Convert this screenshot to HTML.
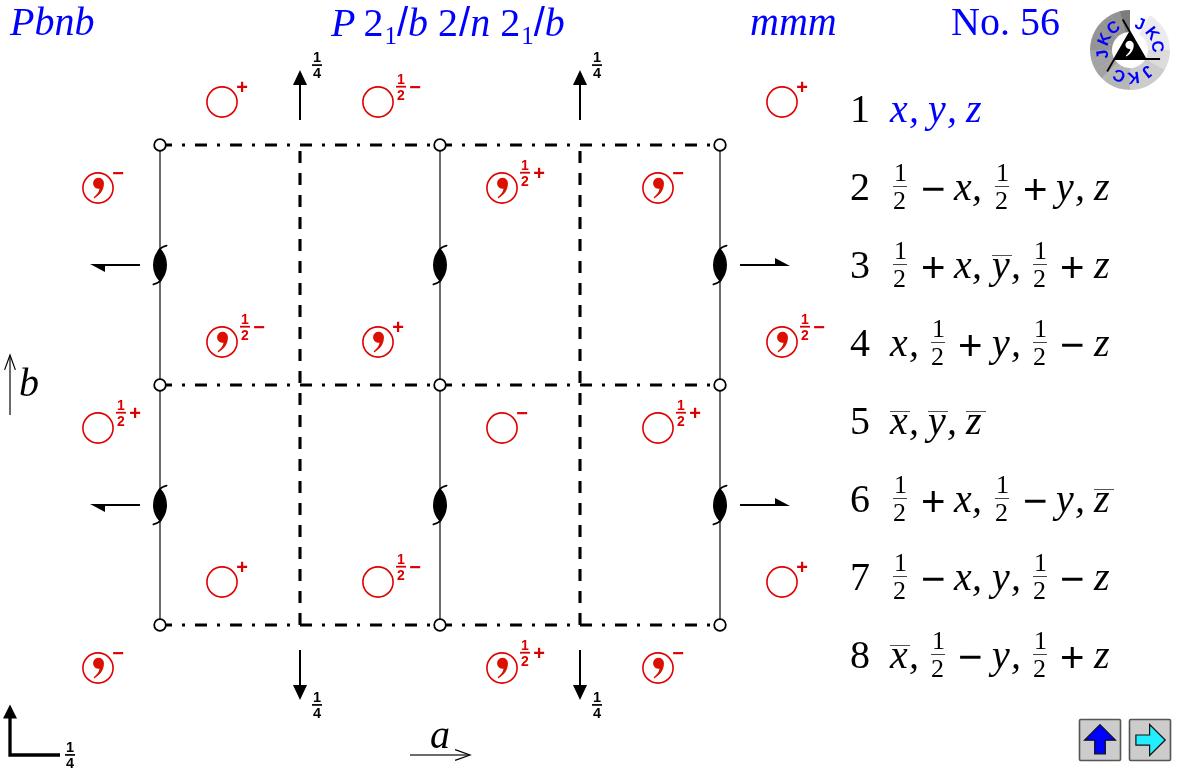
<!DOCTYPE html>
<html lang="en">
<head>
<meta charset="utf-8">
<title>Pbnb No. 56</title>
<style>
html,body{margin:0;padding:0;background:#fff;}
body{width:1180px;height:770px;position:relative;overflow:hidden;font-family:"Liberation Serif",serif;}
#wrap{position:absolute;left:0;top:0;width:1180px;height:770px;will-change:transform;}
#dia{position:absolute;left:0;top:0;}
.hd{position:absolute;font-size:40px;line-height:40px;color:#0000ff;white-space:nowrap;}
.hd i{font-style:italic;}
.hd sub{font-size:25px;line-height:0;vertical-align:baseline;position:relative;top:8px;margin-left:1px;}
.hd .k{margin-left:-2px;}
.sl{font-family:"Liberation Sans",sans-serif;font-style:normal;}
.row{position:absolute;left:0;top:0;width:1180px;height:0;font-size:40px;line-height:40px;color:#000;}
.row span{position:absolute;white-space:pre;}
.row .i{font-style:italic;}
.row .b{color:#0000ff;}
.row .op{font-family:"Liberation Sans",sans-serif;font-size:42px;}
.row .fn,.row .fd{font-size:26px;}
.row .fl{height:1px;width:14px;background:#444;}
.row .ob{height:1px;width:19.5px;background:#555;}
.sb{font-family:"Liberation Sans",sans-serif;font-weight:bold;}
.ax{position:absolute;font-size:40px;line-height:40px;font-style:italic;color:#000;}
</style>
</head>
<body>
<div id="wrap">
<svg id="dia" width="1180" height="770" viewBox="0 0 1180 770">
<defs>
<path id="comma" d="M5.95,-4.7 C5.95,2.2 1.9,7.2 -3.7,10.4 L-4.35,9.2 C-1.2,6.6 1.2,3.6 1.5,0.65 A5.45,5.45 0 1,1 5.95,-4.7 Z"/>
<g id="screw"><path d="M0,-17 A24.14,24.14 0 0,0 0,17 A24.14,24.14 0 0,0 0,-17 Z" fill="#000"/><path d="M-1.6,-13.5 Q-0.7,-17.4 6.6,-19.4" fill="none" stroke="#000" stroke-width="1.8" stroke-linecap="round"/><path d="M1.6,13.5 Q0.7,17.4 -6.6,19.4" fill="none" stroke="#000" stroke-width="1.8" stroke-linecap="round"/></g>
</defs>
<line x1="160" y1="145" x2="160" y2="625" stroke="#6b6b6b" stroke-width="2"/>
<line x1="440" y1="145" x2="440" y2="625" stroke="#6b6b6b" stroke-width="2"/>
<line x1="720" y1="145" x2="720" y2="625" stroke="#6b6b6b" stroke-width="2"/>
<line x1="160" y1="145" x2="720" y2="145" stroke="#000" stroke-width="3.1" stroke-dasharray="12 10 3 10"/>
<line x1="160" y1="385" x2="720" y2="385" stroke="#000" stroke-width="3.1" stroke-dasharray="12 10 3 10"/>
<line x1="160" y1="625" x2="720" y2="625" stroke="#000" stroke-width="3.1" stroke-dasharray="12 10 3 10"/>
<line x1="300" y1="625" x2="300" y2="145" stroke="#000" stroke-width="3.1" stroke-dasharray="12 10"/>
<line x1="580" y1="625" x2="580" y2="145" stroke="#000" stroke-width="3.1" stroke-dasharray="12 10"/>
<circle cx="160" cy="145" r="5.8" fill="#fff" stroke="#000" stroke-width="1.8"/>
<circle cx="160" cy="385" r="5.8" fill="#fff" stroke="#000" stroke-width="1.8"/>
<circle cx="160" cy="625" r="5.8" fill="#fff" stroke="#000" stroke-width="1.8"/>
<circle cx="440" cy="145" r="5.8" fill="#fff" stroke="#000" stroke-width="1.8"/>
<circle cx="440" cy="385" r="5.8" fill="#fff" stroke="#000" stroke-width="1.8"/>
<circle cx="440" cy="625" r="5.8" fill="#fff" stroke="#000" stroke-width="1.8"/>
<circle cx="720" cy="145" r="5.8" fill="#fff" stroke="#000" stroke-width="1.8"/>
<circle cx="720" cy="385" r="5.8" fill="#fff" stroke="#000" stroke-width="1.8"/>
<circle cx="720" cy="625" r="5.8" fill="#fff" stroke="#000" stroke-width="1.8"/>
<use href="#screw" x="160" y="265"/>
<use href="#screw" x="160" y="505"/>
<use href="#screw" x="440" y="265"/>
<use href="#screw" x="440" y="505"/>
<use href="#screw" x="720" y="265"/>
<use href="#screw" x="720" y="505"/>
<path d="M90,264 H140 V266 H105 V272 Z" fill="#000"/>
<path d="M790,266 H740 V264 H775 V258 Z" fill="#000"/>
<path d="M90,504 H140 V506 H105 V512 Z" fill="#000"/>
<path d="M790,506 H740 V504 H775 V498 Z" fill="#000"/>
<line x1="300" y1="120" x2="300" y2="84" stroke="#000" stroke-width="2"/><path d="M300,70 L293,85 L307,85 Z" fill="#000"/>
<line x1="312.0" y1="65.1" x2="322.0" y2="65.1" stroke="#000" stroke-width="1.7"/><text x="317" y="61.99999999999999" text-anchor="middle" class="sb" font-size="14.5" fill="#000">1</text><text x="317" y="77.89999999999999" text-anchor="middle" class="sb" font-size="14.5" fill="#000">4</text>
<line x1="300" y1="650" x2="300" y2="686" stroke="#000" stroke-width="2"/><path d="M300,700 L293,685 L307,685 Z" fill="#000"/>
<line x1="312.0" y1="704.9" x2="322.0" y2="704.9" stroke="#000" stroke-width="1.7"/><text x="317" y="701.8" text-anchor="middle" class="sb" font-size="14.5" fill="#000">1</text><text x="317" y="717.6999999999999" text-anchor="middle" class="sb" font-size="14.5" fill="#000">4</text>
<line x1="580" y1="120" x2="580" y2="84" stroke="#000" stroke-width="2"/><path d="M580,70 L573,85 L587,85 Z" fill="#000"/>
<line x1="592.0" y1="65.1" x2="602.0" y2="65.1" stroke="#000" stroke-width="1.7"/><text x="597" y="61.99999999999999" text-anchor="middle" class="sb" font-size="14.5" fill="#000">1</text><text x="597" y="77.89999999999999" text-anchor="middle" class="sb" font-size="14.5" fill="#000">4</text>
<line x1="580" y1="650" x2="580" y2="686" stroke="#000" stroke-width="2"/><path d="M580,700 L573,685 L587,685 Z" fill="#000"/>
<line x1="592.0" y1="704.9" x2="602.0" y2="704.9" stroke="#000" stroke-width="1.7"/><text x="597" y="701.8" text-anchor="middle" class="sb" font-size="14.5" fill="#000">1</text><text x="597" y="717.6999999999999" text-anchor="middle" class="sb" font-size="14.5" fill="#000">4</text>
<path d="M10,718 V755 H60" fill="none" stroke="#000" stroke-width="3.3"/><path d="M10,704.5 L3,718.6 L17,718.6 Z" fill="#000"/>
<line x1="65.0" y1="754.9" x2="75.0" y2="754.9" stroke="#000" stroke-width="1.7"/><text x="70" y="751.8" text-anchor="middle" class="sb" font-size="14.5" fill="#000">1</text><text x="70" y="767.6999999999999" text-anchor="middle" class="sb" font-size="14.5" fill="#000">4</text>
<line x1="10" y1="356" x2="10" y2="415" stroke="#6b6b6b" stroke-width="2"/><path d="M4.6,369.9 L10,355 L15.4,369.9" fill="none" stroke="#000" stroke-width="1.2"/>
<line x1="410" y1="755" x2="469" y2="755" stroke="#6b6b6b" stroke-width="2"/><path d="M455.1,749.6 L470,755 L455.1,760.4" fill="none" stroke="#000" stroke-width="1.2"/>
<circle cx="222" cy="102" r="15.1" fill="none" stroke="#e00000" stroke-width="1.6"/><text x="242" y="94.2" text-anchor="middle" class="sb" font-size="20" fill="#dd0000">+</text>
<circle cx="378" cy="102" r="15.1" fill="none" stroke="#e00000" stroke-width="1.6"/><line x1="396.0" y1="86.7" x2="406.0" y2="86.7" stroke="#dd0000" stroke-width="1.8"/><text x="401" y="83.60000000000001" text-anchor="middle" class="sb" font-size="14" fill="#dd0000">1</text><text x="401" y="99.5" text-anchor="middle" class="sb" font-size="14" fill="#dd0000">2</text><text x="415" y="93.8" text-anchor="middle" class="sb" font-size="20" fill="#dd0000">−</text>
<circle cx="782" cy="102" r="15.1" fill="none" stroke="#e00000" stroke-width="1.6"/><text x="802" y="94.2" text-anchor="middle" class="sb" font-size="20" fill="#dd0000">+</text>
<circle cx="98" cy="188" r="15.1" fill="none" stroke="#e00000" stroke-width="1.6"/><use href="#comma" x="98" y="188" fill="#dc1000"/><text x="118" y="179.8" text-anchor="middle" class="sb" font-size="20" fill="#dd0000">−</text>
<circle cx="502" cy="188" r="15.1" fill="none" stroke="#e00000" stroke-width="1.6"/><use href="#comma" x="502" y="188" fill="#dc1000"/><line x1="520.0" y1="172.7" x2="530.0" y2="172.7" stroke="#dd0000" stroke-width="1.8"/><text x="525" y="169.6" text-anchor="middle" class="sb" font-size="14" fill="#dd0000">1</text><text x="525" y="185.5" text-anchor="middle" class="sb" font-size="14" fill="#dd0000">2</text><text x="539" y="180.2" text-anchor="middle" class="sb" font-size="20" fill="#dd0000">+</text>
<circle cx="658" cy="188" r="15.1" fill="none" stroke="#e00000" stroke-width="1.6"/><use href="#comma" x="658" y="188" fill="#dc1000"/><text x="678" y="179.8" text-anchor="middle" class="sb" font-size="20" fill="#dd0000">−</text>
<circle cx="222" cy="342" r="15.1" fill="none" stroke="#e00000" stroke-width="1.6"/><use href="#comma" x="222" y="342" fill="#dc1000"/><line x1="240.0" y1="326.7" x2="250.0" y2="326.7" stroke="#dd0000" stroke-width="1.8"/><text x="245" y="323.59999999999997" text-anchor="middle" class="sb" font-size="14" fill="#dd0000">1</text><text x="245" y="339.5" text-anchor="middle" class="sb" font-size="14" fill="#dd0000">2</text><text x="259" y="333.8" text-anchor="middle" class="sb" font-size="20" fill="#dd0000">−</text>
<circle cx="378" cy="342" r="15.1" fill="none" stroke="#e00000" stroke-width="1.6"/><use href="#comma" x="378" y="342" fill="#dc1000"/><text x="398" y="334.2" text-anchor="middle" class="sb" font-size="20" fill="#dd0000">+</text>
<circle cx="782" cy="342" r="15.1" fill="none" stroke="#e00000" stroke-width="1.6"/><use href="#comma" x="782" y="342" fill="#dc1000"/><line x1="800.0" y1="326.7" x2="810.0" y2="326.7" stroke="#dd0000" stroke-width="1.8"/><text x="805" y="323.59999999999997" text-anchor="middle" class="sb" font-size="14" fill="#dd0000">1</text><text x="805" y="339.5" text-anchor="middle" class="sb" font-size="14" fill="#dd0000">2</text><text x="819" y="333.8" text-anchor="middle" class="sb" font-size="20" fill="#dd0000">−</text>
<circle cx="98" cy="428" r="15.1" fill="none" stroke="#e00000" stroke-width="1.6"/><line x1="116.0" y1="412.7" x2="126.0" y2="412.7" stroke="#dd0000" stroke-width="1.8"/><text x="121" y="409.59999999999997" text-anchor="middle" class="sb" font-size="14" fill="#dd0000">1</text><text x="121" y="425.5" text-anchor="middle" class="sb" font-size="14" fill="#dd0000">2</text><text x="135" y="420.2" text-anchor="middle" class="sb" font-size="20" fill="#dd0000">+</text>
<circle cx="502" cy="428" r="15.1" fill="none" stroke="#e00000" stroke-width="1.6"/><text x="522" y="419.8" text-anchor="middle" class="sb" font-size="20" fill="#dd0000">−</text>
<circle cx="658" cy="428" r="15.1" fill="none" stroke="#e00000" stroke-width="1.6"/><line x1="676.0" y1="412.7" x2="686.0" y2="412.7" stroke="#dd0000" stroke-width="1.8"/><text x="681" y="409.59999999999997" text-anchor="middle" class="sb" font-size="14" fill="#dd0000">1</text><text x="681" y="425.5" text-anchor="middle" class="sb" font-size="14" fill="#dd0000">2</text><text x="695" y="420.2" text-anchor="middle" class="sb" font-size="20" fill="#dd0000">+</text>
<circle cx="222" cy="582" r="15.1" fill="none" stroke="#e00000" stroke-width="1.6"/><text x="242" y="574.2" text-anchor="middle" class="sb" font-size="20" fill="#dd0000">+</text>
<circle cx="378" cy="582" r="15.1" fill="none" stroke="#e00000" stroke-width="1.6"/><line x1="396.0" y1="566.7" x2="406.0" y2="566.7" stroke="#dd0000" stroke-width="1.8"/><text x="401" y="563.6" text-anchor="middle" class="sb" font-size="14" fill="#dd0000">1</text><text x="401" y="579.5" text-anchor="middle" class="sb" font-size="14" fill="#dd0000">2</text><text x="415" y="573.8" text-anchor="middle" class="sb" font-size="20" fill="#dd0000">−</text>
<circle cx="782" cy="582" r="15.1" fill="none" stroke="#e00000" stroke-width="1.6"/><text x="802" y="574.2" text-anchor="middle" class="sb" font-size="20" fill="#dd0000">+</text>
<circle cx="98" cy="668" r="15.1" fill="none" stroke="#e00000" stroke-width="1.6"/><use href="#comma" x="98" y="668" fill="#dc1000"/><text x="118" y="659.8" text-anchor="middle" class="sb" font-size="20" fill="#dd0000">−</text>
<circle cx="502" cy="668" r="15.1" fill="none" stroke="#e00000" stroke-width="1.6"/><use href="#comma" x="502" y="668" fill="#dc1000"/><line x1="520.0" y1="652.7" x2="530.0" y2="652.7" stroke="#dd0000" stroke-width="1.8"/><text x="525" y="649.6" text-anchor="middle" class="sb" font-size="14" fill="#dd0000">1</text><text x="525" y="665.5" text-anchor="middle" class="sb" font-size="14" fill="#dd0000">2</text><text x="539" y="660.2" text-anchor="middle" class="sb" font-size="20" fill="#dd0000">+</text>
<circle cx="658" cy="668" r="15.1" fill="none" stroke="#e00000" stroke-width="1.6"/><use href="#comma" x="658" y="668" fill="#dc1000"/><text x="678" y="659.8" text-anchor="middle" class="sb" font-size="20" fill="#dd0000">−</text>
<path d="M1150.00,15.36 A40,40 0 0,1 1158.53,21.96 L1142.84,37.38 A18,18 0 0,0 1139.00,34.41 Z" fill="#ebebeb"/>
<path d="M1158.28,21.72 A40,40 0 0,1 1164.81,30.30 L1145.67,41.14 A18,18 0 0,0 1142.73,37.27 Z" fill="#ebebeb"/>
<path d="M1164.64,30.00 A40,40 0 0,1 1168.73,39.98 L1147.43,45.49 A18,18 0 0,0 1145.59,41.00 Z" fill="#ebebeb"/>
<path d="M1168.64,39.65 A40,40 0 0,1 1170.00,50.35 L1148.00,50.16 A18,18 0 0,0 1147.39,45.34 Z" fill="#ebebeb"/>
<path d="M1170.00,50.00 A40,40 0 0,1 1168.55,60.69 L1147.35,54.81 A18,18 0 0,0 1148.00,50.00 Z" fill="#dcdcdc"/>
<path d="M1168.64,60.35 A40,40 0 0,1 1164.47,70.30 L1145.51,59.14 A18,18 0 0,0 1147.39,54.66 Z" fill="#dcdcdc"/>
<path d="M1164.64,70.00 A40,40 0 0,1 1158.04,78.53 L1142.62,62.84 A18,18 0 0,0 1145.59,59.00 Z" fill="#cccccc"/>
<path d="M1158.28,78.28 A40,40 0 0,1 1149.70,84.81 L1138.86,65.67 A18,18 0 0,0 1142.73,62.73 Z" fill="#cccccc"/>
<path d="M1150.00,84.64 A40,40 0 0,1 1140.02,88.73 L1134.51,67.43 A18,18 0 0,0 1139.00,65.59 Z" fill="#cccccc"/>
<path d="M1140.35,88.64 A40,40 0 0,1 1129.65,90.00 L1129.84,68.00 A18,18 0 0,0 1134.66,67.39 Z" fill="#cccccc"/>
<path d="M1130.00,90.00 A40,40 0 0,1 1119.31,88.55 L1125.19,67.35 A18,18 0 0,0 1130.00,68.00 Z" fill="#b6b6b6"/>
<path d="M1119.65,88.64 A40,40 0 0,1 1109.70,84.47 L1120.86,65.51 A18,18 0 0,0 1125.34,67.39 Z" fill="#b6b6b6"/>
<path d="M1110.00,84.64 A40,40 0 0,1 1101.47,78.04 L1117.16,62.62 A18,18 0 0,0 1121.00,65.59 Z" fill="#b6b6b6"/>
<path d="M1101.72,78.28 A40,40 0 0,1 1095.19,69.70 L1114.33,58.86 A18,18 0 0,0 1117.27,62.73 Z" fill="#a3a3a3"/>
<path d="M1095.36,70.00 A40,40 0 0,1 1091.27,60.02 L1112.57,54.51 A18,18 0 0,0 1114.41,59.00 Z" fill="#a3a3a3"/>
<path d="M1091.36,60.35 A40,40 0 0,1 1090.00,49.65 L1112.00,49.84 A18,18 0 0,0 1112.61,54.66 Z" fill="#a3a3a3"/>
<path d="M1090.00,50.00 A40,40 0 0,1 1091.45,39.31 L1112.65,45.19 A18,18 0 0,0 1112.00,50.00 Z" fill="#949494"/>
<path d="M1091.36,39.65 A40,40 0 0,1 1095.53,29.70 L1114.49,40.86 A18,18 0 0,0 1112.61,45.34 Z" fill="#949494"/>
<path d="M1095.36,30.00 A40,40 0 0,1 1101.96,21.47 L1117.38,37.16 A18,18 0 0,0 1114.41,41.00 Z" fill="#949494"/>
<path d="M1101.72,21.72 A40,40 0 0,1 1110.30,15.19 L1121.14,34.33 A18,18 0 0,0 1117.27,37.27 Z" fill="#949494"/>
<path d="M1110.00,15.36 A40,40 0 0,1 1119.98,11.27 L1125.49,32.57 A18,18 0 0,0 1121.00,34.41 Z" fill="#949494"/>
<path d="M1119.65,11.36 A40,40 0 0,1 1130.00,10.00 L1130.00,32.00 A18,18 0 0,0 1125.34,32.61 Z" fill="#7c7c7c"/>
<path d="M1130,32 L1145.59,59 L1114.41,59 Z" fill="#000"/>
<path d="M1145.59,59 L1122.75,19.44 M1114.41,59 L1160.09,59.00 M1130,32 L1107.16,71.56" stroke="#000" stroke-width="1.8" fill="none"/>
<use href="#comma" transform="translate(1129.2,48.5) scale(0.76)" fill="#fff"/>
<text transform="translate(1130,50) rotate(21) translate(0,-22.5)" text-anchor="middle" class="sb" font-size="16.5" fill="#0000ff">J</text>
<text transform="translate(1130,50) rotate(53) translate(0,-22.5)" text-anchor="middle" class="sb" font-size="16.5" fill="#0000ff">K</text>
<text transform="translate(1130,50) rotate(83) translate(0,-22.5)" text-anchor="middle" class="sb" font-size="16.5" fill="#0000ff">C</text>
<text transform="translate(1130,50) rotate(141) translate(0,-22.5)" text-anchor="middle" class="sb" font-size="16.5" fill="#0000ff">J</text>
<text transform="translate(1130,50) rotate(173) translate(0,-22.5)" text-anchor="middle" class="sb" font-size="16.5" fill="#0000ff">K</text>
<text transform="translate(1130,50) rotate(203) translate(0,-22.5)" text-anchor="middle" class="sb" font-size="16.5" fill="#0000ff">C</text>
<text transform="translate(1130,50) rotate(261) translate(0,-22.5)" text-anchor="middle" class="sb" font-size="16.5" fill="#0000ff">J</text>
<text transform="translate(1130,50) rotate(293) translate(0,-22.5)" text-anchor="middle" class="sb" font-size="16.5" fill="#0000ff">K</text>
<text transform="translate(1130,50) rotate(323) translate(0,-22.5)" text-anchor="middle" class="sb" font-size="16.5" fill="#0000ff">C</text>
<rect x="1079.5" y="719.5" width="41" height="41" rx="1.2" fill="#ccc" stroke="#555" stroke-width="1.6"/>
<path d="M1100,724.6 L1115.5,740.2 L1105.3,740.2 L1105.3,753.8 L1094.7,753.8 L1094.7,740.2 L1084.5,740.2 Z" fill="#0000ff" stroke="#111" stroke-width="1.2"/>
<rect x="1129.5" y="719.5" width="41" height="41" rx="1.2" fill="#ccc" stroke="#555" stroke-width="1.6"/>
<path d="M1165.2,740 L1149.6,755.5 L1149.6,745.1 L1135.9,745.1 L1135.9,735 L1149.6,735 L1149.6,724.5 Z" fill="#22eeff" stroke="#111" stroke-width="1.2"/>
</svg>
<div class="hd" style="left:10px;top:2px;"><i>Pbnb</i></div>
<div class="hd" style="left:331px;top:2px;"><i>P</i> <span class="k">2</span><sub>1</sub><span class="sl">/</span><i>b</i> 2<span class="sl" style="margin-left:1px">/</span><i>n</i> 2<sub>1</sub><span class="sl">/</span><i>b</i></div>
<div class="hd" style="left:750px;top:2px;"><i>mmm</i></div>
<div class="hd" style="left:951px;top:2px;">No. 56</div>
<div class="ax" style="left:19px;top:363px;">b</div>
<div class="ax" style="left:430px;top:715px;">a</div>
<div class="row"><span style="left:850px;top:89px">1</span><span class="i b" style="left:890px;top:89px">x</span><span class="i b" style="left:909px;top:89px">,</span><span class="i b" style="left:928px;top:89px">y</span><span class="i b" style="left:947px;top:89px">,</span><span class="i b" style="left:966px;top:89px">z</span></div>
<div class="row"><span style="left:850px;top:167px">2</span><span class="fn" style="left:894px;top:153px">1</span><span class="fl" style="left:893px;top:186px"></span><span class="fd" style="left:893px;top:181px">2</span><span class="op" style="left:921px;top:169px">−</span><span class="i" style="left:954px;top:167px">x</span><span class="i" style="left:972px;top:167px">,</span><span class="fn" style="left:996px;top:153px">1</span><span class="fl" style="left:995px;top:186px"></span><span class="fd" style="left:995px;top:181px">2</span><span class="op" style="left:1023px;top:170px">+</span><span class="i" style="left:1056px;top:167px">y</span><span class="i" style="left:1075px;top:167px">,</span><span class="i" style="left:1094px;top:167px">z</span></div>
<div class="row"><span style="left:850px;top:245px">3</span><span class="fn" style="left:894px;top:231px">1</span><span class="fl" style="left:893px;top:264px"></span><span class="fd" style="left:893px;top:259px">2</span><span class="op" style="left:921px;top:248px">+</span><span class="i" style="left:954px;top:245px">x</span><span class="i" style="left:972px;top:245px">,</span><span class="i" style="left:992px;top:245px">y</span><span class="ob" style="left:992px;top:255px"></span><span class="i" style="left:1011px;top:245px">,</span><span class="fn" style="left:1034px;top:231px">1</span><span class="fl" style="left:1033px;top:264px"></span><span class="fd" style="left:1033px;top:259px">2</span><span class="op" style="left:1060px;top:248px">+</span><span class="i" style="left:1094px;top:245px">z</span></div>
<div class="row"><span style="left:850px;top:323px">4</span><span class="i" style="left:890px;top:323px">x</span><span class="i" style="left:909px;top:323px">,</span><span class="fn" style="left:932px;top:309px">1</span><span class="fl" style="left:931px;top:342px"></span><span class="fd" style="left:931px;top:337px">2</span><span class="op" style="left:958px;top:326px">+</span><span class="i" style="left:992px;top:323px">y</span><span class="i" style="left:1011px;top:323px">,</span><span class="fn" style="left:1034px;top:309px">1</span><span class="fl" style="left:1033px;top:342px"></span><span class="fd" style="left:1033px;top:337px">2</span><span class="op" style="left:1060px;top:325px">−</span><span class="i" style="left:1094px;top:323px">z</span></div>
<div class="row"><span style="left:850px;top:401px">5</span><span class="i" style="left:890px;top:401px">x</span><span class="ob" style="left:890px;top:411px"></span><span class="i" style="left:909px;top:401px">,</span><span class="i" style="left:928px;top:401px">y</span><span class="ob" style="left:928px;top:411px"></span><span class="i" style="left:947px;top:401px">,</span><span class="i" style="left:966px;top:401px">z</span><span class="ob" style="left:966px;top:411px"></span></div>
<div class="row"><span style="left:850px;top:479px">6</span><span class="fn" style="left:894px;top:465px">1</span><span class="fl" style="left:893px;top:498px"></span><span class="fd" style="left:893px;top:493px">2</span><span class="op" style="left:921px;top:482px">+</span><span class="i" style="left:954px;top:479px">x</span><span class="i" style="left:972px;top:479px">,</span><span class="fn" style="left:996px;top:465px">1</span><span class="fl" style="left:995px;top:498px"></span><span class="fd" style="left:995px;top:493px">2</span><span class="op" style="left:1023px;top:481px">−</span><span class="i" style="left:1056px;top:479px">y</span><span class="i" style="left:1075px;top:479px">,</span><span class="i" style="left:1094px;top:479px">z</span><span class="ob" style="left:1094px;top:489px"></span></div>
<div class="row"><span style="left:850px;top:557px">7</span><span class="fn" style="left:894px;top:543px">1</span><span class="fl" style="left:893px;top:576px"></span><span class="fd" style="left:893px;top:571px">2</span><span class="op" style="left:921px;top:559px">−</span><span class="i" style="left:954px;top:557px">x</span><span class="i" style="left:972px;top:557px">,</span><span class="i" style="left:992px;top:557px">y</span><span class="i" style="left:1011px;top:557px">,</span><span class="fn" style="left:1034px;top:543px">1</span><span class="fl" style="left:1033px;top:576px"></span><span class="fd" style="left:1033px;top:571px">2</span><span class="op" style="left:1060px;top:559px">−</span><span class="i" style="left:1094px;top:557px">z</span></div>
<div class="row"><span style="left:850px;top:635px">8</span><span class="i" style="left:890px;top:635px">x</span><span class="ob" style="left:890px;top:645px"></span><span class="i" style="left:909px;top:635px">,</span><span class="fn" style="left:932px;top:621px">1</span><span class="fl" style="left:931px;top:654px"></span><span class="fd" style="left:931px;top:649px">2</span><span class="op" style="left:958px;top:637px">−</span><span class="i" style="left:992px;top:635px">y</span><span class="i" style="left:1011px;top:635px">,</span><span class="fn" style="left:1034px;top:621px">1</span><span class="fl" style="left:1033px;top:654px"></span><span class="fd" style="left:1033px;top:649px">2</span><span class="op" style="left:1060px;top:638px">+</span><span class="i" style="left:1094px;top:635px">z</span></div>
</div>
</body>
</html>
